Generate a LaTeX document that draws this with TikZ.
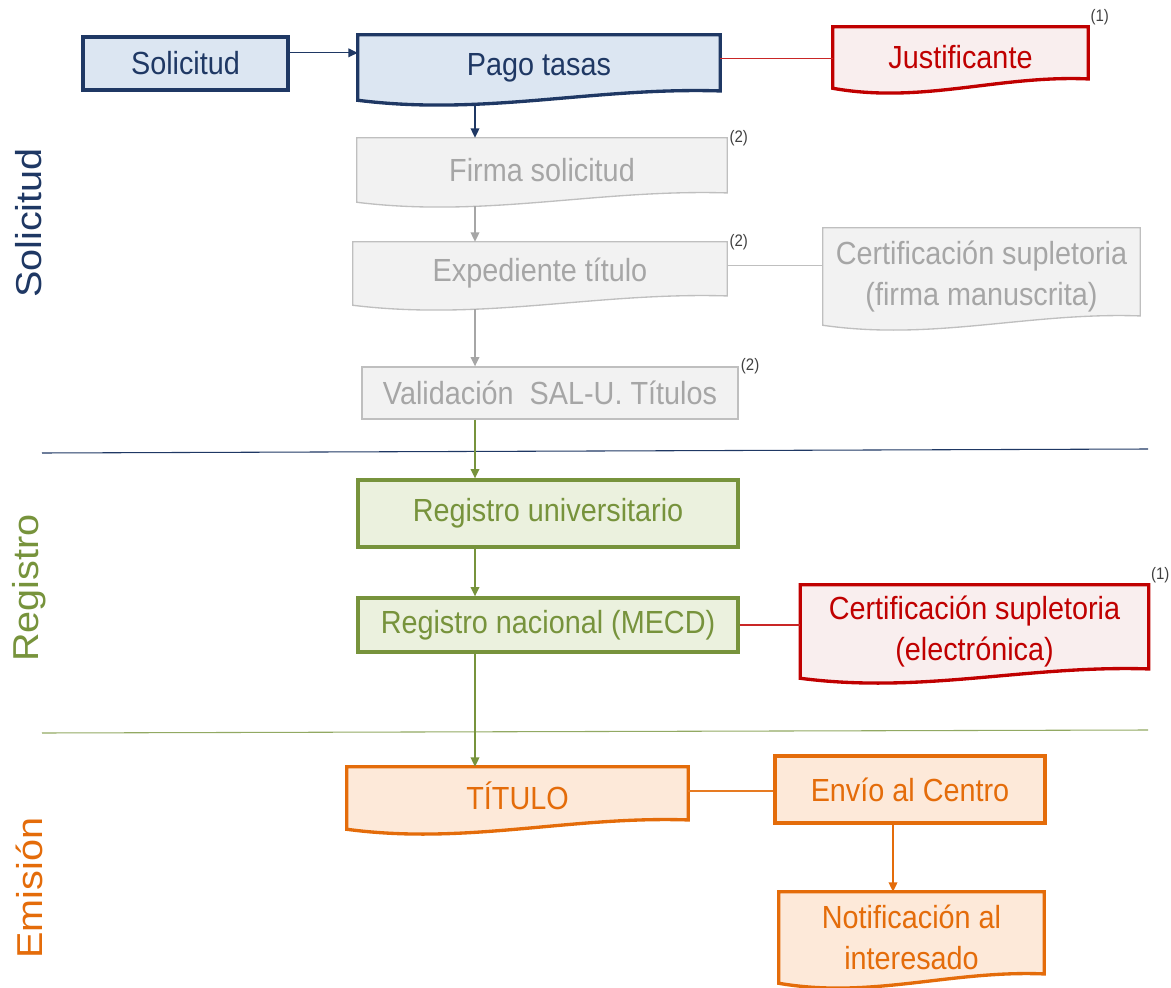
\documentclass[tikz,border=0pt]{standalone}
\usepackage{fontspec}
\setmainfont{Liberation Sans}[FakeStretch=0.9]
\newfontfamily\sidefont{Liberation Sans}[FakeStretch=1.1]
\usetikzlibrary{arrows.meta,calc,backgrounds}

\definecolor{navyc}{HTML}{1F3864}
\definecolor{navyfill}{HTML}{DCE6F2}
\definecolor{redc}{HTML}{C00000}
\definecolor{redfill}{HTML}{F9EEEE}
\definecolor{grayc}{HTML}{BFBFBF}
\definecolor{grayfill}{HTML}{F2F2F2}
\definecolor{graytext}{HTML}{A6A6A6}
\definecolor{greenc}{HTML}{77933C}
\definecolor{greenfill}{HTML}{EBF1DE}
\definecolor{orangec}{HTML}{E46C0A}
\definecolor{orangefill}{HTML}{FDE9D9}
\definecolor{notec}{HTML}{404040}

\tikzset{
  box/.style={rectangle, align=center, inner sep=0pt, font=\fontsize{24}{31}\selectfont},
  navybox/.style={box, draw=navyc, fill=navyfill, line width=2.5pt, text=navyc},
  navydoc/.style={draw=navyc, fill=navyfill, line width=2.5pt},
  reddoc/.style={draw=redc, fill=redfill, line width=2.5pt},
  graydoc/.style={draw=grayc, fill=grayfill, line width=1pt},
  orangedoc/.style={draw=orangec, fill=orangefill, line width=2.5pt},
  graybox/.style={box, draw=grayc, fill=grayfill, line width=1pt, text=graytext},
  greenbox/.style={box, draw=greenc, fill=greenfill, line width=2.5pt, text=greenc},
  orangebox/.style={box, draw=orangec, fill=orangefill, line width=2.5pt, text=orangec},
  link/.style={line width=1pt},
  tip/.style={link, -{Triangle[length=7pt,width=6.5pt]}},
  note/.style={font=\fontsize{12.5}{14}\selectfont, text=notec, inner sep=1.5pt},
  side/.style={rotate=90, font=\sidefont\fontsize{27}{30}\selectfont}
}

\begin{document}
\begin{tikzpicture}[x=0.75pt,y=-0.75pt]
\useasboundingbox (0,0) rectangle (1171,988);

% lanes
\draw[navyc, line width=0.8pt] (42,453) -- (1148,449);
\draw[greenc!80, line width=0.8pt] (42,733) -- (1148,730);
\node[side, text=navyc] (lsol) at (29,223) {Solicitud};
\node[side, text=greenc] (lreg) at (29,588) {Registro};
\node[side, text=orangec] (lemi) at (29,888) {Emisión};

% boxes
\node[navybox, minimum width=153.75pt, minimum height=39.75pt] (sol) at (185.5,63.5) {Solicitud};
\node[box, text=navyc, minimum width=271.5pt, minimum height=48.75pt] (pago) at (539,67.5) {Pago tasas};
\node[box, text=redc, minimum width=191.25pt, minimum height=45.75pt] (just) at (960.5,57.5) {Justificante};
\node[box, text=graytext, minimum width=277.5pt, minimum height=48pt] (fir) at (542,170) {Firma solicitud};
\node[box, text=graytext, minimum width=280.5pt, minimum height=47.25pt] (exp) at (540,273.5) {Expediente título};
\node[box, text=graytext, minimum width=237.75pt, minimum height=72.75pt] (cmf) at (981.5,276.5) {Certificación supletoria\\(firma manuscrita)};
\node[graybox, minimum width=282pt, minimum height=39pt] (val) at (550,393) {Validación\ \ SAL-U. Títulos};
\node[greenbox, minimum width=285pt, minimum height=50.25pt] (run) at (548,513.5) {Registro universitario};
\node[greenbox, minimum width=285pt, minimum height=40.5pt] (rna) at (548,625) {Registro nacional (MECD)};
\node[box, text=redc, minimum width=261pt, minimum height=69.75pt] (cel) at (974.5,631.5) {Certificación supletoria\\(electrónica)};
\node[box, text=orangec, minimum width=255.75pt, minimum height=46.5pt, text depth=4pt] (tit) at (517.5,798) {TÍTULO};
\node[orangebox, minimum width=202.5pt, minimum height=50.25pt] (env) at (910,789.5) {Envío al Centro};
\node[box, text=orangec, minimum width=198.75pt, minimum height=68.25pt] (noti) at (911.5,937.5) {Notificación al\\interesado};

% document outlines
\begin{scope}[on background layer]
\foreach \nd/\st in {pago/navydoc,just/reddoc,fir/graydoc,exp/graydoc,cmf/graydoc,cel/reddoc,tit/orangedoc,noti/orangedoc}
  \draw[\st] (\nd.north west) -- (\nd.north east) -- ([yshift=7pt]\nd.south east)
    .. controls ($(\nd.south east)!0.35!(\nd.south west)+(0,10pt)$) and ($(\nd.south west)!0.35!(\nd.south east)+(0,-12pt)$) .. (\nd.south west) -- cycle;
\end{scope}

% notes
\node[note, anchor=south west] (n1) at (just.north east) {(1)};
\node[note, anchor=west] (n2) at (fir.north east) {(2)};
\node[note, anchor=west] (n3) at (exp.north east) {(2)};
\node[note, anchor=west] (n4) at (val.north east) {(2)};
\node[note, anchor=south west] (n5) at (cel.north east) {(1)};

% connectors
\coordinate (col) at (475,0);
\coordinate (col2) at (893,0);
\draw[tip, navyc] ([yshift=8pt]sol.east) -- ([yshift=8pt]sol.east -| pago.west);
\draw[tip, navyc] ([yshift=-3pt]col |- pago.south) -- (col |- fir.north);
\draw[tip, graytext] ([yshift=-3pt]col |- fir.south) -- (col |- exp.north);
\draw[tip, graytext] ([yshift=-3pt]col |- exp.south) -- (col |- val.north);
\draw[tip, greenc] (col |- val.south) -- (col |- run.north);
\draw[tip, greenc] (col |- run.south) -- (col |- rna.north);
\draw[tip, greenc] (col |- rna.south) -- (col |- tit.north);
\draw[tip, orangec] (col2 |- env.south) -- (col2 |- noti.north);
\draw[link, redc!85] ([yshift=-1pt]just.west -| pago.east) -- ([yshift=-1pt]just.west);
\draw[link, grayc] ([yshift=6pt]exp.east) -- ([yshift=6pt]exp.east -| cmf.west);
\draw[link, redc!85] (rna.east) -- (rna.east -| cel.west);
\draw[link, orangec!90] ([yshift=-1pt]env.west -| tit.east) -- ([yshift=-1pt]env.west);

\end{tikzpicture}
\end{document}
